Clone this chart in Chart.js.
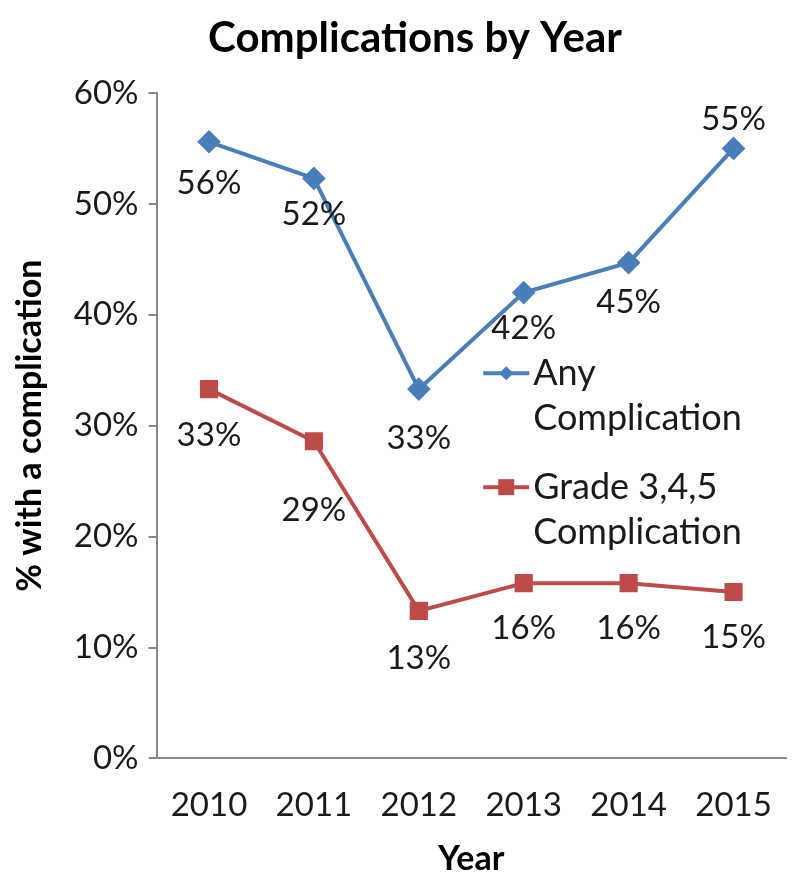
<!DOCTYPE html>
<html>
<head>
<meta charset="utf-8">
<script src="https://cdn.jsdelivr.net/npm/chart.js@4/dist/chart.umd.min.js"></script>
<style>
html,body{margin:0;padding:0;background:#fff;}
#wrap{width:800px;height:889px;}
</style>
</head>
<body>
<div id="wrap"><canvas id="c" width="800" height="889"></canvas></div>
<script>
const chartTitle = 'Complications by Year';
const years = ['2010', '2011', '2012', '2013', '2014', '2015'];
const anyComplication = [55.6, 52.3, 33.3, 42.0, 44.7, 55.0];
const gradeComplication = [33.3, 28.6, 13.3, 15.8, 15.8, 15.0];
const seriesNames = [['Any', 'Complication'], ['Grade 3,4,5', 'Complication']];
const yTicks = [0, 10, 20, 30, 40, 50, 60];

const FONT = 'Lato, "Open Sans", sans-serif';
const BLUE = '#4A7EBB';
const RED = '#BE4B48';
const TEXT = '#1a1a1a';

const titlePlugin = {
  id: 'centeredTitle',
  afterDraw(chart) {
    const ctx = chart.ctx;
    ctx.save();
    ctx.font = 'bold 42px ' + FONT;
    ctx.fillStyle = '#000';
    ctx.textAlign = 'center';
    ctx.textBaseline = 'middle';
    ctx.fillText(chartTitle, chart.width / 2 + 15, 38);
    ctx.restore();
  }
};

const labelPlugin = {
  id: 'pointLabels',
  afterDatasetsDraw(chart) {
    const ctx = chart.ctx;
    ctx.save();
    ctx.font = '33px ' + FONT;
    ctx.fillStyle = TEXT;
    ctx.textAlign = 'center';
    ctx.textBaseline = 'middle';
    chart.data.datasets.forEach((ds, di) => {
      const meta = chart.getDatasetMeta(di);
      meta.data.forEach((pt, i) => {
        const v = ds.data[i];
        const dy = ds.labelDy[i];
        ctx.fillText(Math.round(v) + '%', pt.x, pt.y + dy);
      });
    });
    ctx.restore();
  }
};

const legendPlugin = {
  id: 'inlineLegend',
  afterDatasetsDraw(chart) {
    const ctx = chart.ctx;
    const area = chart.chartArea;
    const x0 = area.left + (area.right - area.left) * 0.519;
    let y = area.top + (area.bottom - area.top) * 0.421;
    ctx.save();
    ctx.font = '36px ' + FONT;
    ctx.textAlign = 'left';
    ctx.textBaseline = 'middle';
    chart.data.datasets.forEach((ds) => {
      ctx.strokeStyle = ds.borderColor;
      ctx.lineWidth = 4;
      ctx.beginPath();
      ctx.moveTo(x0, y);
      ctx.lineTo(x0 + 46, y);
      ctx.stroke();
      ctx.fillStyle = ds.borderColor;
      if (ds.pointStyle === 'rect') {
        ctx.fillRect(x0 + 23 - 8, y - 8, 16, 16);
      } else {
        ctx.beginPath();
        ctx.moveTo(x0 + 23, y - 7);
        ctx.lineTo(x0 + 30, y);
        ctx.lineTo(x0 + 23, y + 7);
        ctx.lineTo(x0 + 16, y);
        ctx.closePath();
        ctx.fill();
      }
      ctx.fillStyle = TEXT;
      ds.label.forEach((line, li) => {
        ctx.fillText(line, x0 + 50, y + li * 45);
      });
      y += 114;
    });
    ctx.restore();
  }
};

new Chart(document.getElementById('c'), {
  type: 'line',
  data: {
    labels: years,
    datasets: [
      {
        label: seriesNames[0],
        data: anyComplication,
        borderColor: BLUE,
        backgroundColor: BLUE,
        borderWidth: 4,
        pointStyle: 'rectRot',
        pointRadius: 9,
        pointHoverRadius: 9,
        tension: 0,
        labelDy: [42, 36, 49, 36, 40, -29]
      },
      {
        label: seriesNames[1],
        data: gradeComplication,
        borderColor: RED,
        backgroundColor: RED,
        borderWidth: 4,
        pointStyle: 'rect',
        pointRadius: 10,
        pointHoverRadius: 10,
        tension: 0,
        labelDy: [46, 69, 47, 45, 45, 45]
      }
    ]
  },
  options: {
    responsive: false,
    animation: false,
    layout: { padding: { left: 10, right: 10, top: 93, bottom: 13 } },
    plugins: {
      legend: { display: false },
      tooltip: { enabled: false },
      title: { display: false }
    },
    scales: {
      x: {
        offset: true,
        grid: { display: false, drawTicks: false },
        border: { display: true, color: '#888888', width: 2 },
        ticks: { color: TEXT, font: { family: FONT, size: 33 }, padding: 27 },
        title: { display: true, text: 'Year', color: '#000', font: { family: FONT, size: 34, weight: 'bold', lineHeight: 1 }, padding: { top: -10, bottom: 0 } }
      },
      y: {
        min: 0,
        max: 60,
        afterBuildTicks(scale) { scale.ticks = yTicks.map(v => ({ value: v })); },
        grid: { display: true, drawOnChartArea: false, drawTicks: true, tickLength: 8, color: '#888888', lineWidth: 2 },
        border: { display: true, color: '#888888', width: 2 },
        ticks: { color: TEXT, font: { family: FONT, size: 33 }, padding: 10, callback: v => v + '%' },
        title: { display: true, text: '% with a complication', color: '#000', font: { family: FONT, size: 34, weight: 'bold' }, padding: { top: 0, bottom: 13 } }
      }
    }
  },
  plugins: [labelPlugin, legendPlugin, titlePlugin]
});
</script>
</body>
</html>
